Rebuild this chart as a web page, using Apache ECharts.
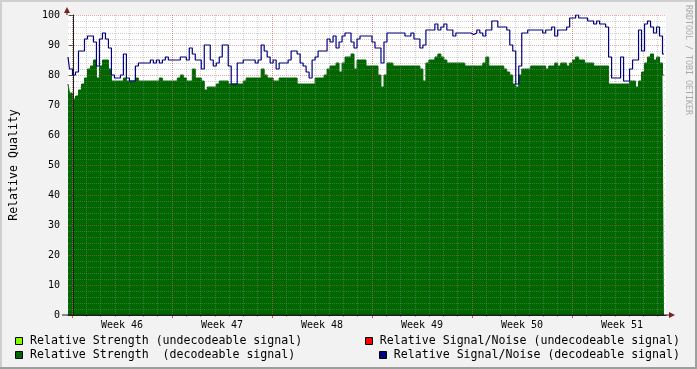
<!DOCTYPE html>
<html><head><meta charset="utf-8">
<script src="https://cdn.jsdelivr.net/npm/echarts@6/dist/echarts.min.js"></script>
<style>html,body{margin:0;padding:0;background:#F2F2F2}#c{width:697px;height:369px}</style>
</head><body><div id="c"></div>
<script>
// ---- data ----
const weekLabels = ['Week 46','Week 47','Week 48','Week 49','Week 50','Week 51'];
const startHour = -8.4;   // hours relative to Monday 00:00 of week 46
const stepHours = 5.04;   // sample spacing
const endHour = 997.92;
const strengthDecodeable = [
77,74,72,73,75,77,79,82,83,85,
79,83,85,85,82,78,78,78,78,79,
78,78,78,79,78,78,78,78,78,78,
78,79,78,78,78,78,78,79,80,79,
78,78,82,79,79,78,75,76,76,76,
77,78,78,78,77,77,77,77,77,78,
79,79,79,79,79,82,80,79,79,78,
78,79,79,79,79,79,79,77,77,77,
77,77,77,79,79,79,80,82,83,83,
84,81,84,86,86,87,82,85,85,85,
83,83,83,83,80,76,80,84,84,83,
83,83,83,83,83,83,83,83,82,78,
84,85,85,86,87,86,85,84,84,84,
84,84,84,83,83,83,83,83,83,84,
86,83,83,83,83,83,82,81,80,77,
76,80,82,82,82,83,83,83,83,83,
82,83,83,84,83,84,84,83,84,85,
86,85,85,84,84,84,83,83,83,83,
83,77,77,77,77,77,77,77,78,78,
76,78,81,84,86,87,85,86,84,80];
const snrDecodeable = [
86,82,80,81,88,88,92,93,93,91,
83,92,94,92,89,80,79,79,80,87,
79,78,78,83,84,84,84,84,85,84,
85,84,85,86,85,85,85,85,86,86,
85,89,87,85,85,82,90,90,85,83,
84,86,90,90,83,77,77,84,84,85,
85,85,85,84,85,90,88,86,84,85,
82,84,84,84,85,88,88,87,84,83,
81,79,85,86,88,88,88,92,91,93,
89,91,93,94,94,91,89,92,93,93,
93,93,91,89,89,84,91,94,94,94,
94,94,94,93,93,94,92,92,89,90,
95,95,95,97,95,96,97,95,95,93,
94,94,94,94,94,93.5,94,95,94,93,
95,95,98,98,96,96,96,95,90,88,
77,83,94,94,95,95,95,95,95,94,
95,95,96,93,95,95,95,96,99,99,
100,99,99,99,98,98,97,98,97,97,
96,86,79,79,79,86,78,78,82,85,
85,95,88,97,98,96,94,96,93,87];
const strengthUndecodeable = [];
const snrUndecodeable = [];

const toPairs = arr => arr.map((v, i) => [startHour + i * stepHours, v]);
const MONO = "'DejaVu Sans Mono', monospace";
const GRID_C = 'rgba(143,143,143,0.42)';
const MGRID_C = 'rgba(222,79,79,0.5)';

const chart = echarts.init(document.getElementById('c'));
chart.setOption({
  backgroundColor: '#F2F2F2',
  animation: false,
  grid: [
    {left: 67, top: 15, width: 599, height: 300, show: true, backgroundColor: '#FFFFFF', borderWidth: 0},
    {left: 72, top: 15, width: 984 / 1.68, height: 300, show: false},
    {left: 72, top: 15, width: 840 / 1.68, height: 300, show: false},
    {left: 122, top: 15, width: 840 / 1.68, height: 300, show: false}
  ],
  xAxis: [
    {gridIndex: 0, type: 'value', min: startHour, max: endHour, z: 6,
     axisLine: {show: true, onZero: false, lineStyle: {color: '#1F1F1F', width: 1}},
     axisTick: {show: false}, axisLabel: {show: false}, splitLine: {show: false}},
    {gridIndex: 1, type: 'value', min: 0, max: 984, interval: 24, z: 4,
     axisLine: {show: false}, axisLabel: {show: false},
     axisTick: {show: true, length: 2, lineStyle: {color: '#AAAAAA'}},
     splitLine: {show: true, lineStyle: {color: GRID_C, type: [1, 1], width: 1}}},
    {gridIndex: 2, type: 'value', min: 0, max: 840, interval: 168, z: 5,
     axisLine: {show: false}, axisLabel: {show: false},
     axisTick: {show: true, length: 3, lineStyle: {color: '#DE4F4F'}},
     splitLine: {show: true, lineStyle: {color: MGRID_C, type: [1, 1], width: 1}}},
    {gridIndex: 3, type: 'value', min: 0, max: 840, interval: 168, z: 5,
     axisLine: {show: false}, axisTick: {show: false}, splitLine: {show: false},
     axisLabel: {show: true, margin: 5, fontSize: 10, fontFamily: MONO, color: '#000',
       formatter: v => weekLabels[Math.round(v / 168)] || ''}}
  ],
  yAxis: [
    {gridIndex: 0, type: 'value', min: 0, max: 100, interval: 10, z: 5,
     name: 'Relative Quality', nameLocation: 'middle', nameGap: 48,
     nameTextStyle: {fontSize: 11.6, fontFamily: MONO, color: '#000'},
     axisLine: {show: true, lineStyle: {color: '#1F1F1F', width: 1}},
     axisTick: {show: true, length: 4, lineStyle: {color: '#555'}},
     axisLabel: {margin: 8, fontSize: 10, fontFamily: MONO, color: '#000'},
     splitLine: {show: true, lineStyle: {color: MGRID_C, type: [1, 1], width: 1}},
     minorTick: {show: false, splitNumber: 5},
     minorSplitLine: {show: true, lineStyle: {color: GRID_C, type: [1, 1], width: 1}}},
    {gridIndex: 1, type: 'value', min: 0, max: 100, show: false},
    {gridIndex: 2, type: 'value', min: 0, max: 100, show: false},
    {gridIndex: 3, type: 'value', min: 0, max: 100, show: false}
  ],
  series: [
    {name: 'Relative Strength (undecodeable signal)', type: 'line', xAxisIndex: 0, yAxisIndex: 0,
     data: toPairs(strengthUndecodeable), symbol: 'none', color: '#80FF00'},
    {name: 'Relative Strength  (decodeable signal)', type: 'line', xAxisIndex: 0, yAxisIndex: 0,
     data: toPairs(strengthDecodeable), step: 'middle', symbol: 'none', z: 2,
     lineStyle: {color: '#006600', width: 1}, areaStyle: {color: '#006600', opacity: 1}, color: '#006600'},
    {name: 'Relative Signal/Noise (undecodeable signal)', type: 'line', xAxisIndex: 0, yAxisIndex: 0,
     data: toPairs(snrUndecodeable), symbol: 'none', color: '#FF0000'},
    {name: 'Relative Signal/Noise (decodeable signal)', type: 'line', xAxisIndex: 0, yAxisIndex: 0,
     data: toPairs(snrDecodeable), step: 'middle', symbol: 'none', z: 20,
     lineStyle: {color: '#000080', width: 1.2}, color: '#000080'}
  ],
  graphic: [
    {type: 'rect', shape: {x: 0, y: 0, width: 697, height: 2}, style: {fill: '#CFCFCF'}, silent: true},
    {type: 'rect', shape: {x: 0, y: 0, width: 2, height: 369}, style: {fill: '#CFCFCF'}, silent: true},
    {type: 'rect', shape: {x: 0, y: 367, width: 697, height: 2}, style: {fill: '#9E9E9E'}, silent: true},
    {type: 'rect', shape: {x: 695, y: 0, width: 2, height: 369}, style: {fill: '#9E9E9E'}, silent: true},
    {type: 'line', shape: {x1: 67, y1: 15, x2: 67, y2: 11}, style: {stroke: '#1F1F1F', lineWidth: 1}, z: 30},
    {type: 'line', shape: {x1: 62, y1: 315, x2: 670, y2: 315}, style: {stroke: '#1F1F1F', lineWidth: 1}, z: 30},
    {type: 'polygon', shape: {points: [[64, 13], [70, 13], [67, 7]]}, style: {fill: '#801F1F'}, z: 31},
    {type: 'polygon', shape: {points: [[669, 312], [669, 318], [675, 315]]}, style: {fill: '#801F1F'}, z: 31},
    {type: 'text', x: 688, y: 5, rotation: -Math.PI / 2,
     style: {text: 'RRDTOOL / TOBI OETIKER', font: "8.3px 'DejaVu Sans Mono', monospace", fill: '#AAAAAA',
       textAlign: 'left', textVerticalAlign: 'middle'}},
    {type: 'rect', shape: {x: 15.5, y: 337.5, width: 7, height: 7}, style: {fill: '#80FF00', stroke: '#000', lineWidth: 1}},
    {type: 'text', x: 30, y: 341, style: {text: 'Relative Strength (undecodeable signal)', font: "11.6px 'DejaVu Sans Mono', monospace", fill: '#000', textVerticalAlign: 'middle'}},
    {type: 'rect', shape: {x: 15.5, y: 351.5, width: 7, height: 7}, style: {fill: '#006600', stroke: '#000', lineWidth: 1}},
    {type: 'text', x: 30, y: 355, style: {text: 'Relative Strength  (decodeable signal)', font: "11.6px 'DejaVu Sans Mono', monospace", fill: '#000', textVerticalAlign: 'middle'}},
    {type: 'rect', shape: {x: 365.5, y: 337.5, width: 7, height: 7}, style: {fill: '#FF0000', stroke: '#000', lineWidth: 1}},
    {type: 'text', x: 680, y: 341, style: {text: 'Relative Signal/Noise (undecodeable signal)', font: "11.6px 'DejaVu Sans Mono', monospace", fill: '#000', textAlign: 'right', textVerticalAlign: 'middle'}},
    {type: 'rect', shape: {x: 379.5, y: 351.5, width: 7, height: 7}, style: {fill: '#000080', stroke: '#000', lineWidth: 1}},
    {type: 'text', x: 680, y: 355, style: {text: 'Relative Signal/Noise (decodeable signal)', font: "11.6px 'DejaVu Sans Mono', monospace", fill: '#000', textAlign: 'right', textVerticalAlign: 'middle'}}
  ]
});
</script></body></html>
